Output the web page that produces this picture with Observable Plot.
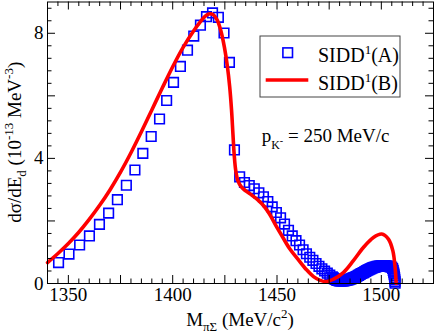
<!DOCTYPE html>
<html><head><meta charset="utf-8">
<script src="https://cdn.jsdelivr.net/npm/d3@7"></script>
<script src="https://cdn.jsdelivr.net/npm/@observablehq/plot@0.6"></script>
<style>body{margin:0;background:#fff} svg{display:block}</style>
</head><body><div id="chart"></div>
<script>
// SIDD1(A): squares
const sqX = [1345.3,1350.3,1355.4,1360.1,1364.9,1369.3,1373.5,1377.8,1381.9,1385.7,1389.7,1393.7,1397.1,1400.4,1403.7,1407.1,1410.1,1413.3,1416.2,1419.1,1421.9,1424.6,1427.2,1429.6,1432.1,1434.4,1436.7,1439.1,
  1441.3,1443.5,1445.6,1447.7,1449.7,1451.7,1453.6,1455.5,1457.3,1459.1,1460.8,1462.5,1464.1,1465.7,1467.2,1468.7,1470.1,1471.5,1472.8,1474.1,1475.3,1476.5,
  1477.0,1477.5,1478.0,1478.5,1479.0,1479.5,1480.0,1480.5,1481.0,1481.5,1482.0,1482.5,1483.0,1483.5,1484.0,1484.5,1485.0,1485.5,1486.0,1486.5,1487.0,1487.5,1488.0,1488.5,1489.0,1489.5,1490.0,1490.5,1491.0,1491.5,
  1492.0,1492.5,1493.0,1493.5,1494.0,1494.5,1495.0,1495.5,1496.0,1496.5,1497.0,1497.5,1498.0,1498.5,1499.0,1499.5,1500.0,1500.5,1501.0,1501.5,1502.0,1502.5,1503.0,1503.5,1504.0,1504.5,
  1505.0,1505.4,1505.7,1505.9,1506.1,1506.25,1506.4,1506.5,1506.55,1506.6];
const sqY = [0.67,0.94,1.23,1.52,1.89,2.25,2.68,3.14,3.63,4.16,4.70,5.26,5.85,6.43,6.94,7.46,7.91,8.26,8.53,8.65,8.51,8.01,7.07,4.27,3.41,3.23,3.13,3.03,
  2.90,2.77,2.62,2.45,2.27,2.10,1.90,1.70,1.52,1.37,1.23,1.08,0.95,0.84,0.74,0.64,0.55,0.47,0.40,0.33,0.27,0.21,
  0.18,0.15,0.13,0.11,0.10,0.09,0.085,0.08,0.08,0.08,0.085,0.09,0.10,0.105,0.115,0.125,0.14,0.15,0.165,0.18,0.19,0.205,0.22,0.24,0.26,0.28,0.30,0.32,0.335,0.35,
  0.37,0.39,0.41,0.43,0.445,0.46,0.475,0.49,0.505,0.515,0.525,0.535,0.545,0.55,0.555,0.56,0.565,0.57,0.57,0.57,0.565,0.56,0.56,0.55,0.54,0.53,
  0.52,0.48,0.42,0.36,0.30,0.24,0.18,0.12,0.06,0.01];
// SIDD1(B): line
const lineX = [1340,1345,1350,1355,1360,1365,1370,1375,1380,1385,1390,1395,1400,1405,1410,1413.3,1415.5,1417.3,1419.3,1421.3,1423.2,1424.8,1426.2,1427.3,1428.2,1428.9,1429.5,1430.2,1431.2,1432.8,1435.0,1438.0,1441.2,1443.8,1446.4,1449.4,1452.4,1456.0,1460.0,1464.0,1467.5,1470.7,1473.9,1477.1,1481.8,1486.6,1491.4,1496.2,1500.2,1503.4,1505.5,1506.6,1507.1];
const lineY = [0.67,0.96,1.28,1.64,2.05,2.50,3.00,3.56,4.18,4.85,5.55,6.25,6.93,7.55,8.07,8.37,8.54,8.62,8.60,8.43,8.05,7.55,6.95,6.30,5.55,4.75,4.10,3.62,3.30,3.10,2.96,2.82,2.65,2.47,2.22,1.86,1.52,1.12,0.78,0.45,0.22,0.10,0.06,0.14,0.35,0.73,1.15,1.47,1.58,1.42,1.05,0.51,0.0];
// tick labels
const xTickLabels = [1350,1400,1450,1500];
const yTickLabels = [0,4,8];
const xMajorTicks = [1350,1375,1400,1425,1450,1475,1500];
const xMinorTicks = d3.range(1345,1525,5).filter(v => v % 25 !== 0);
const yMajorTicks = [2,4,6,8];
const yMinorTicks = d3.range(1,23).map(i => +(i*0.4).toFixed(1)).filter(v => Math.abs(v/2 - Math.round(v/2)) > 1e-6);

const FONT = "Liberation Serif";
const W=436,H=334,mL=47,mR=3,mT=1.5,mB=51;
const fw=W-mL-mR, fh=H-mT-mB;
const LMAJ=8, LMIN=4.5;

const squares = sqX.map((x,i)=>({x, y: sqY[i]}));
const curve = lineX.map((x,i)=>({x, y: lineY[i]}));

const chart = Plot.plot({
  width: W, height: H, marginLeft: mL, marginRight: mR, marginTop: mT, marginBottom: mB,
  style: {fontFamily: FONT, fontSize: "18px", background: "white", color: "black"},
  x: {domain: [1340,1525], label: null},
  y: {domain: [0,9], label: null},
  marks: [
    Plot.dot(squares, {x:"x", y:"y", symbol:"square", r:5.4, stroke:"#0000ff", strokeWidth:1.6, fill:"none"}),
    Plot.line(curve, {x:"x", y:"y", stroke:"#ff0000", strokeWidth:3.6, curve:"catmull-rom"}),
    Plot.ruleX(xMajorTicks, {insetTop: fh-LMAJ, stroke:"black"}),
    Plot.ruleX(xMinorTicks, {insetTop: fh-LMIN, stroke:"black"}),
    Plot.ruleX(xMajorTicks, {insetBottom: fh-LMAJ, stroke:"black"}),
    Plot.ruleX(xMinorTicks, {insetBottom: fh-LMIN, stroke:"black"}),
    Plot.ruleY(yMajorTicks, {insetRight: fw-LMAJ, stroke:"black"}),
    Plot.ruleY(yMinorTicks, {insetRight: fw-LMIN, stroke:"black"}),
    Plot.ruleY(yMajorTicks, {insetLeft: fw-LMAJ, stroke:"black"}),
    Plot.ruleY(yMinorTicks, {insetLeft: fw-LMIN, stroke:"black"}),
    Plot.frame({stroke:"black"}),
    Plot.axisX({ticks: xTickLabels, tickFormat: d => String(d), tickSize: 0, tickPadding: 4, fontSize: 19, fontFamily: FONT, label: null}),
    Plot.axisY({ticks: yTickLabels, tickFormat: d => String(d), tickSize: 0, tickPadding: 4, fontSize: 19, fontFamily: FONT, label: null})
  ]
});
document.getElementById("chart").appendChild(chart);

const svg = d3.select(chart);
// x label
const xl = svg.append("text").attr("x", mL+fw/2).attr("y", 326).attr("text-anchor","middle")
  .attr("font-size",19).attr("font-family",FONT).attr("fill","black");
xl.append("tspan").text("M");
xl.append("tspan").attr("dy",5).attr("font-size",13).text("πΣ");
xl.append("tspan").attr("dy",-5).text(" (MeV/c");
xl.append("tspan").attr("dy",-8).attr("font-size",13).text("2");
xl.append("tspan").attr("dy",8).text(")");
// y label
const yl = svg.append("text").attr("transform",`translate(21,${mT+fh/2}) rotate(-90)`).attr("text-anchor","middle")
  .attr("font-size",19).attr("font-family",FONT).attr("fill","black");
yl.append("tspan").text("dσ/dE");
yl.append("tspan").attr("dy",5).attr("font-size",13).text("d");
yl.append("tspan").attr("dy",-5).text(" (10");
yl.append("tspan").attr("dy",-8).attr("font-size",13).text("-13");
yl.append("tspan").attr("dy",8).text(" MeV");
yl.append("tspan").attr("dy",-8).attr("font-size",13).text("-3");
yl.append("tspan").attr("dy",8).text(")");
// legend
const lg = svg.append("g").attr("font-family",FONT).attr("font-size",20).attr("fill","black").attr("text-anchor","start");
lg.append("rect").attr("x",260).attr("y",36).attr("width",140).attr("height",61).attr("fill","white").attr("stroke","#444").attr("stroke-width",1);
lg.append("rect").attr("x",287.7-4.8).attr("y",52.7-4.8).attr("width",9.6).attr("height",9.6).attr("fill","none").attr("stroke","#0000ff").attr("stroke-width",1.6);
lg.append("line").attr("x1",265.7).attr("x2",308.3).attr("y1",80).attr("y2",80).attr("stroke","#ff0000").attr("stroke-width",3.6);
const la = lg.append("text").attr("x",318).attr("y",62);
la.append("tspan").text("SIDD"); la.append("tspan").attr("dy",-8).attr("font-size",13).text("1"); la.append("tspan").attr("dy",8).text("(A)");
const lb = lg.append("text").attr("x",318).attr("y",90);
lb.append("tspan").text("SIDD"); lb.append("tspan").attr("dy",-8).attr("font-size",13).text("1"); lb.append("tspan").attr("dy",8).text("(B)");
// annotation
const an = svg.append("text").attr("x",261.7).attr("y",141.5).attr("font-family",FONT).attr("font-size",19).attr("fill","black").attr("text-anchor","start");
an.append("tspan").text("p");
an.append("tspan").attr("dy",7).attr("font-size",12).text("K");
an.append("tspan").attr("dy",-5).attr("font-size",10).text("-");
an.append("tspan").attr("dy",-2).text(" = 250 MeV/c");
</script>
</body></html>
